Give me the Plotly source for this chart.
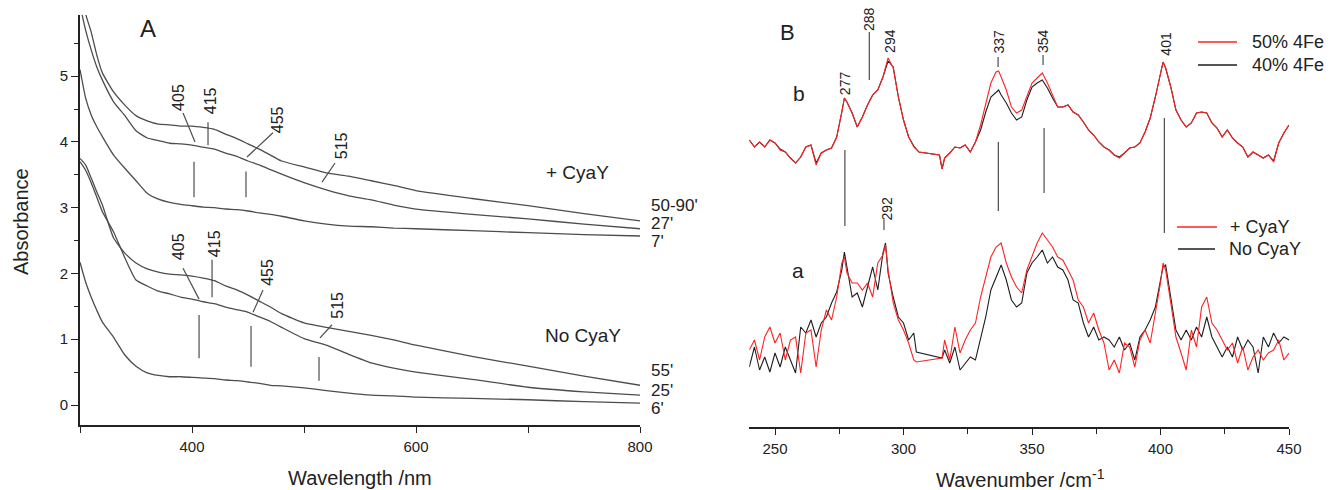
import plotly.graph_objects as go

# ---------------- Panel A : UV-vis absorbance ----------------
wavelength_nm = [300, 305, 310, 315, 320, 330, 340, 350, 360, 370, 380, 390, 400, 410, 420,
                 430, 440, 450, 460, 470, 480, 500, 520, 540, 560, 580, 600, 650, 700, 750, 800]
abs_cyay_50_90 = [6.60, 5.95, 5.67, 5.32, 5.05, 4.76, 4.56, 4.40, 4.32, 4.27, 4.26, 4.24, 4.24, 4.22, 4.19,
                  4.12, 4.05, 3.97, 3.89, 3.80, 3.71, 3.62, 3.53, 3.48, 3.41, 3.34, 3.26, 3.14, 3.03, 2.91, 2.80]
abs_cyay_27 = [6.08, 5.70, 5.40, 5.14, 4.94, 4.61, 4.40, 4.17, 4.06, 4.02, 3.98, 3.97, 3.95, 3.92, 3.89,
               3.83, 3.78, 3.71, 3.65, 3.58, 3.51, 3.38, 3.27, 3.18, 3.12, 3.04, 2.98, 2.90, 2.83, 2.75, 2.68]
abs_cyay_7 = [5.10, 4.67, 4.41, 4.23, 4.08, 3.80, 3.60, 3.41, 3.22, 3.13, 3.08, 3.05, 3.03, 3.01, 3.00,
              2.98, 2.97, 2.95, 2.92, 2.90, 2.87, 2.80, 2.75, 2.72, 2.71, 2.69, 2.68, 2.65, 2.62, 2.59, 2.57]
abs_nocyay_55 = [3.75, 3.65, 3.45, 3.24, 3.04, 2.54, 2.31, 2.16, 2.07, 2.02, 1.99, 1.98, 1.96, 1.93, 1.89,
                 1.81, 1.75, 1.67, 1.58, 1.49, 1.39, 1.25, 1.18, 1.12, 1.06, 0.99, 0.91, 0.74, 0.59, 0.44, 0.30]
abs_nocyay_25 = [3.70, 3.57, 3.38, 3.16, 2.94, 2.63, 2.24, 1.90, 1.81, 1.73, 1.69, 1.64, 1.61, 1.57, 1.54,
                 1.49, 1.45, 1.41, 1.34, 1.27, 1.18, 1.01, 0.91, 0.77, 0.64, 0.56, 0.50, 0.39, 0.27, 0.20, 0.15]
abs_nocyay_6 = [2.17, 1.87, 1.64, 1.44, 1.26, 1.03, 0.76, 0.59, 0.49, 0.45, 0.43, 0.43, 0.42, 0.41, 0.40,
                0.38, 0.37, 0.35, 0.33, 0.30, 0.29, 0.26, 0.22, 0.18, 0.15, 0.14, 0.12, 0.10, 0.08, 0.05, 0.03]
time_labels_A = ["50-90'", "27'", "7'", "55'", "25'", "6'"]
group_labels_A = ["+ CyaY", "No CyaY"]
peak_labels_A = ["405", "415", "455", "515"]

# ---------------- Panel B : resonance Raman ----------------
b_wavenumber = [240, 242, 244, 246, 248, 250, 252, 254, 256, 258, 260, 262, 264, 266, 268, 270, 272, 274, 276,
                277,
                278, 280, 282, 284, 286, 288, 290, 292, 294, 296, 298, 300, 302, 304, 306,
                314, 315,
                316, 318, 320, 322, 324, 326, 328, 330, 332, 334, 336,
                337,
                338, 340, 342, 344, 346, 348, 350, 352, 354, 356, 358, 360, 362, 364, 366, 368, 370, 372, 374,
                376, 378, 380, 382, 384, 386, 388, 390, 392, 394, 396, 398, 400,
                401,
                402, 404, 406, 408, 410, 412, 414, 416, 418, 420, 422, 424, 426, 428, 430, 432, 434, 436, 438,
                440, 442, 444, 446, 448, 450]
b_50pct_4Fe = [287, 280, 285, 280, 287, 284, 277, 275, 269, 264, 270, 280, 282, 262, 274, 277, 279, 290, 315,
               329,
               325, 314, 300, 310, 322, 332, 337, 350, 369, 359, 330, 307, 290, 280, 275,
               272, 258,
               269, 274, 280, 279, 282, 275, 285, 302, 324, 344, 355,
               356,
               350, 337, 320, 314, 317, 330, 344, 349, 354, 344, 332, 320, 320, 322, 315, 312, 305, 297, 292,
               285, 280, 277, 272, 269, 274, 279, 280, 284, 295, 309, 330, 354,
               365,
               359, 340, 317, 307, 300, 304, 314, 315, 314, 304, 299, 290, 297, 289, 284, 280, 270, 275, 272,
               269, 272, 265, 284, 294, 302]
b_40pct_4Fe = [287, 280, 285, 280, 287, 284, 278, 275, 269, 264, 270, 280, 282, 264, 274, 277, 279, 290, 315,
               329,
               325, 314, 300, 310, 322, 332, 337, 350, 366, 360, 330, 307, 290, 281, 275,
               272, 258,
               269, 274, 280, 279, 282, 275, 285, 297, 315, 330, 335,
               337,
               332, 324, 314, 307, 310, 327, 340, 344, 347, 339, 329, 320, 320, 322, 315, 312, 305, 297, 292,
               285, 280, 277, 272, 270, 274, 279, 280, 284, 295, 309, 330, 354,
               365,
               359, 340, 317, 307, 300, 304, 314, 315, 314, 304, 299, 290, 297, 289, 284, 280, 270, 275, 272,
               269, 272, 266, 284, 294, 302]

a_wavenumber = [240, 242, 244, 246, 248, 250, 252, 254, 256, 258, 260, 262, 264, 266, 268, 270, 272, 274, 276,
                277,
                278, 280, 282, 284, 286, 288, 290, 292,
                293,
                294, 296, 298, 300, 302, 304,
                305, 315,
                316, 318, 320, 322, 324, 326, 328, 330, 332, 334, 336, 338, 340, 342, 344, 346, 348, 350, 352,
                354, 356, 358, 360, 362, 364, 366, 368, 370, 372, 374, 376, 378, 380, 382, 384, 386, 388, 390,
                392, 394, 396, 398, 400,
                401,
                402, 404, 406, 408, 410, 412, 414, 416, 418, 420, 422, 424, 426, 428, 430, 432, 434, 436, 438,
                440, 442, 444, 446, 448, 450]
a_no_cyay = [60, 80, 57, 70, 55, 74, 60, 80, 67, 54, 100, 94, 107, 90, 104, 110, 124, 135, 157,
             175,
             160, 130, 134, 120, 140, 160, 137, 174,
             184,
             154, 130, 110, 104, 87, 94,
             75, 69,
             77, 64, 80, 57, 64, 70, 67, 90, 110, 137, 150, 162, 147, 127, 120, 124, 154, 164, 170,
             177, 164, 170, 160, 157, 147, 127, 124, 104, 90, 100, 87, 90, 87, 80, 90, 77, 84, 67,
             90, 97, 107, 120, 147,
             160,
             162, 130, 97, 87, 97, 87, 100, 90, 110, 90, 80, 70, 80, 70, 90, 77, 87, 80, 54,
             90, 80, 94, 84, 90, 87]
a_plus_cyay = [77, 87, 67, 90, 100, 84, 94, 67, 87, 90, 54, 94, 97, 60, 97, 117, 107, 130, 164,
               170,
               154, 144, 144, 137, 144, 130, 164, 172,
               182,
               157, 124, 107, 97, 84, 67,
               65, 69,
               87, 67, 100, 74, 87, 97, 104, 130, 150, 170, 180, 184, 164, 150, 140, 134, 157, 170, 184,
               194, 187, 180, 170, 167, 157, 147, 127, 120, 104, 114, 97, 84, 57, 67, 54, 84, 80, 60,
               87, 97, 84, 114, 144,
               164,
               157, 124, 90, 74, 57, 97, 80, 120, 130, 104, 97, 87, 77, 84, 64, 80, 57, 70, 77,
               67, 74, 77, 87, 67, 74]
legend_b = ["50% 4Fe", "40% 4Fe"]
legend_a = ["+ CyaY", "No CyaY"]

# ---------------- styling ----------------
FONT = "Liberation Sans, Arial, Helvetica, sans-serif"
TXT = "#222222"
GRAY = "#4d4d4d"
RED = "#ff2222"
BLK = "#1e1e1e"
W, H = 1339, 490

fig = go.Figure()

for ys in [abs_cyay_50_90, abs_cyay_27, abs_cyay_7, abs_nocyay_55, abs_nocyay_25, abs_nocyay_6]:
    fig.add_trace(go.Scatter(x=wavelength_nm, y=ys, mode="lines",
                             line=dict(color=GRAY, width=1.3, shape="spline", smoothing=0.5),
                             showlegend=False, hoverinfo="skip", xaxis="x", yaxis="y"))

fig.add_trace(go.Scatter(x=b_wavenumber, y=b_40pct_4Fe, mode="lines", name=legend_b[1],
                         line=dict(color=BLK, width=1.1), showlegend=False, xaxis="x2", yaxis="y2"))
fig.add_trace(go.Scatter(x=b_wavenumber, y=b_50pct_4Fe, mode="lines", name=legend_b[0],
                         line=dict(color=RED, width=1.1), showlegend=False, xaxis="x2", yaxis="y2"))
fig.add_trace(go.Scatter(x=a_wavenumber, y=a_no_cyay, mode="lines", name=legend_a[1],
                         line=dict(color=BLK, width=1.1), showlegend=False, xaxis="x2", yaxis="y2"))
fig.add_trace(go.Scatter(x=a_wavenumber, y=a_plus_cyay, mode="lines", name=legend_a[0],
                         line=dict(color=RED, width=1.1), showlegend=False, xaxis="x2", yaxis="y2"))

axis_common = dict(showgrid=False, zeroline=False, showline=True, linecolor=TXT, linewidth=1.6,
                   ticks="outside", tickcolor=TXT, tickwidth=1.4,
                   tickfont=dict(family=FONT, size=15, color=TXT), automargin=False)

fig.update_layout(
    width=W, height=H, margin=dict(l=0, r=0, t=0, b=0),
    paper_bgcolor="white", plot_bgcolor="white", showlegend=False,
    font=dict(family=FONT, color=TXT),
    xaxis=dict(axis_common, domain=[80 / W, 640 / W], range=[300, 800], anchor="y",
               tickvals=[400, 600, 800], ticklen=6, ticklabelstandoff=1,
               minor=dict(tickvals=[300, 500, 700], ticks="outside", ticklen=6, tickcolor=TXT, tickwidth=1.4)),
    yaxis=dict(axis_common, domain=[65 / H, 475 / H], range=[-0.304, 5.93], anchor="x",
               tickvals=[0, 1, 2, 3, 4, 5], ticklen=7,
               minor=dict(dtick=0.5, tick0=0, ticks="outside", ticklen=4, tickcolor=TXT, tickwidth=1.2)),
    xaxis2=dict(axis_common, domain=[749.3 / W, 1289 / W], range=[240, 450], anchor="y2",
                tickvals=[250, 300, 350, 400, 450], ticklen=6, ticklabelstandoff=1,
                minor=dict(tickvals=[275, 325, 375, 425], ticks="outside", ticklen=5, tickcolor=TXT, tickwidth=1.2)),
    yaxis2=dict(domain=[63 / H, 1.0], range=[0, 427], anchor="x2", visible=False),
)

shapes = []
annotations = []

def seg(x0, y0, x1, y1, xr="x", yr="y", color=GRAY, width=1.2):
    shapes.append(dict(type="line", x0=x0, y0=y0, x1=x1, y1=y1, xref=xr, yref=yr,
                       line=dict(color=color, width=width)))

def txt(x, y, s, size, xr="x", yr="y", angle=0, xanchor="center", yanchor="middle"):
    annotations.append(dict(x=x, y=y, xref=xr, yref=yr, text=s, showarrow=False, textangle=angle,
                            xanchor=xanchor, yanchor=yanchor, font=dict(family=FONT, size=size, color=TXT)))

# Panel A peak labels and leader lines (upper: + CyaY, lower: No CyaY)
upperA = [((388.4, 4.67), (392.0, 4.44, 402.7, 4.00)),
          ((416.1, 4.62), (414.3, 4.30, 414.3, 3.95)),
          ((475.9, 4.33), (472.3, 4.14, 449.1, 3.77)),
          ((533.0, 3.95), (527.7, 3.68, 516.1, 3.39))]
lowerA = [((387.5, 2.40), (392.0, 2.08, 406.3, 1.61)),
          ((419.6, 2.46), (417.9, 2.21, 417.9, 1.64)),
          ((467.9, 2.01), (463.4, 1.75, 454.5, 1.41)),
          ((530.4, 1.51), (525.0, 1.22, 514.3, 1.02))]
for group in (upperA, lowerA):
    for lab, ((tx, ty), ln) in zip(peak_labels_A, group):
        txt(tx, ty, lab, 16, angle=-90)
        seg(*ln)
for (x, y0, y1) in [(401.8, 3.70, 3.16), (448.2, 3.55, 3.16), (406.3, 1.37, 0.71), (452.7, 1.20, 0.58), (513.4, 0.73, 0.37)]:
    seg(x, y0, x, y1)

# time labels at right end of curves (pixel rows of the label centres)
for lab, py in zip(time_labels_A, [206, 224, 241, 370, 390, 408]):
    txt(649 / W, 1 - py / H, lab, 17, xr="paper", yr="paper", xanchor="left")
txt(743.8, 3.53, group_labels_A[0], 19)
txt(749.1, 1.06, group_labels_A[1], 19)

# Panel B peak labels
for lab, x, y in [("277", 277.1, 343.5), ("288", 286.4, 407.5), ("294", 294.7, 386), ("337", 336.8, 385.5),
                  ("354", 354.3, 386), ("401", 401.8, 383.5), ("292", 293.2, 218.5)]:
    txt(x, y, lab, 14, xr="x2", yr="y2", angle=-90)
for (x, y0, y1) in [(286.7, 395, 347), (336.8, 370, 360), (354.3, 372, 362), (292.4, 207, 197),
                    (277.2, 277, 201), (336.9, 285, 216), (354.7, 299, 234), (401.5, 309, 194)]:
    seg(x, y0, x, y1, xr="x2", yr="y2")
txt(259.3, 334, "b", 21, xr="x2", yr="y2")
txt(259.0, 157, "a", 21, xr="x2", yr="y2")

# Panel B legends (drawn as keys)
for (x0, x1, py, col, lab, tx) in [(1198, 1237, 42, RED, legend_b[0], 1250), (1198, 1237, 65, BLK, legend_b[1], 1250),
                                   (1177, 1217, 227, RED, legend_a[0], 1228), (1178, 1215, 249, BLK, legend_a[1], 1227)]:
    seg(x0 / W, 1 - py / H, x1 / W, 1 - py / H, xr="paper", yr="paper", color=col, width=1.3)
    txt(tx / W, 1 - py / H, lab, 18, xr="paper", yr="paper", xanchor="left")

# Panel letters and axis titles
txt(148 / W, 1 - 28 / H, "A", 24, xr="paper", yr="paper")
txt(787 / W, 1 - 32 / H, "B", 22, xr="paper", yr="paper")
txt(21 / W, 1 - 222 / H, "Absorbance", 20, xr="paper", yr="paper", angle=-90)
txt(360 / W, 1 - 478 / H, "Wavelength /nm", 20, xr="paper", yr="paper")
txt(1020 / W, 1 - 478 / H, "Wavenumber /cm<sup>-1</sup>", 20, xr="paper", yr="paper")

fig.update_layout(shapes=shapes, annotations=annotations)
fig.write_html("out.html", config={"displayModeBar": False},
               post_script="document.body.style.margin='0';document.body.style.padding='0';document.body.style.overflow='hidden';")
